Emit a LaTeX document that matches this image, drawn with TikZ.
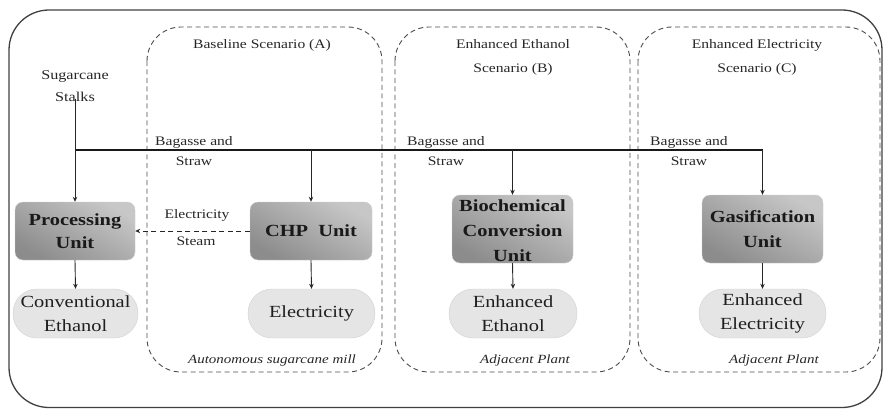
\documentclass[tikz,border=0pt]{standalone}
\usepackage{fontspec}
\setmainfont{Liberation Serif}[FakeStretch=1.2]
\usetikzlibrary{arrows.meta}
\begin{document}
\begin{tikzpicture}[x=1pt,y=-1pt,
  frame/.style={draw=black!75, line width=1.3pt, rounded corners=40pt},
  scen/.style={draw=black!70, line width=0.9pt, dash pattern=on 5pt off 3.5pt, rounded corners=34pt},
  unit/.style={draw=black!20, rounded corners=8pt, top color=black!22, bottom color=black!45, shading angle=-30, inner sep=0pt},
  unittxt/.style={font=\fontsize{17}{24}\selectfont\bfseries, align=center, text=black!90, inner sep=0pt},
  outbox/.style={draw=black!18, fill=black!10, rounded corners=24pt, minimum height=49pt, font=\fontsize{17}{24}\selectfont, align=center, text=black!88, inner sep=0pt},
  lbl/.style={font=\fontsize{13}{20}\selectfont, align=center, text=black!85, inner sep=0pt},
  ttl/.style={font=\fontsize{13}{24}\selectfont, align=center, text=black!85, inner sep=0pt},
  note/.style={font=\fontsize{12.5}{16}\selectfont\itshape, text=black!85, inner sep=0pt},
  arr/.style={-{Stealth[length=5pt,width=4.5pt]}, line width=0.9pt, draw=black!85}
]
\useasboundingbox (0,0) rectangle (886,409);
% outer frame
\draw[frame] (9,10) rectangle (882,407.5);
% scenario boxes
\draw[scen] (147,27) rectangle (382,372);
\draw[scen] (395,27) rectangle (630,372);
\draw[scen] (638,27) rectangle (880,372);
% titles
\node[ttl] (tA) at (262,45) {Baseline Scenario (A)};
\node[ttl] (tB) at (513,57) {Enhanced Ethanol\\Scenario (B)};
\node[ttl] (tC) at (757,57) {Enhanced Electricity\\Scenario (C)};
% input
\node[lbl, font=\fontsize{13.5}{22}\selectfont] (sc) at (75,86) {Sugarcane\\Stalks};
% units
\node[unit, minimum width=120pt, minimum height=58pt] (proc) at (75,231) {};
\node[unittxt, font=\fontsize{17}{23}\selectfont\bfseries] (proct) at (proc.center) {Processing\\Unit};
\node[unit, minimum width=122pt, minimum height=58pt] (chp) at (311,231) {};
\node[unittxt] (chpt) at (chp.center) {CHP\ \ Unit};
\node[unit, minimum width=121pt, minimum height=68pt] (bio) at (512.5,229) {};
\node[unittxt, font=\fontsize{17}{25}\selectfont\bfseries] (biot) at (512.5,231) {Biochemical\\Conversion\\Unit};
\node[unit, minimum width=121pt, minimum height=68pt] (gas) at (762.5,229) {};
\node[unittxt, font=\fontsize{17}{25}\selectfont\bfseries] (gast) at (gas.center) {Gasification\\Unit};
% outputs
\node[outbox, minimum width=125pt] (conv) at (75.5,313.5) {Conventional\\Ethanol};
\node[outbox, minimum width=127pt] (elec) at (311.5,313.5) {Electricity};
\node[outbox, minimum width=128pt] (eeth) at (513,313.5) {Enhanced\\Ethanol};
\node[outbox, minimum width=127pt] (eele) at (762.5,313.5) {Enhanced\\Electricity};
% feed lines
\coordinate (j) at (75,150);
\coordinate (jend) at (762.5,150);
\draw[line width=1.3pt, black!90] (j) -- (jend);
\draw[arr] (sc.south) ++(0,-3) -- (proc.north);
\draw[arr] (j -| chp.north) -- (chp.north);
\draw[arr] (j -| bio.north) -- (bio.north);
\draw[arr] (jend) -- (gas.north);
% labels
\node[lbl] (b1) at (194,151) {Bagasse and\\Straw};
\node[lbl] (b2) at (446,151) {Bagasse and\\Straw};
\node[lbl] (b3) at (689,151) {Bagasse and\\Straw};
% outputs arrows
\draw[arr] (proc.south) -- (conv.north);
\draw[arr] (chp.south) -- (elec.north);
\draw[arr] (bio.south) -- (eeth.north);
\draw[arr] (gas.south) -- (eele.north);
% electricity / steam
\draw[arr, dash pattern=on 5pt off 3.5pt] (chp.west) -- (proc.east);
\node[lbl] (le) at (197,215) {Electricity};
\node[lbl] (ls) at (196,241) {Steam};
% notes
\node[note] (nA) at (272,360) {Autonomous sugarcane mill};
\node[note] (nB) at (525,360) {Adjacent Plant};
\node[note] (nC) at (774,360) {Adjacent Plant};
\end{tikzpicture}
\end{document}
